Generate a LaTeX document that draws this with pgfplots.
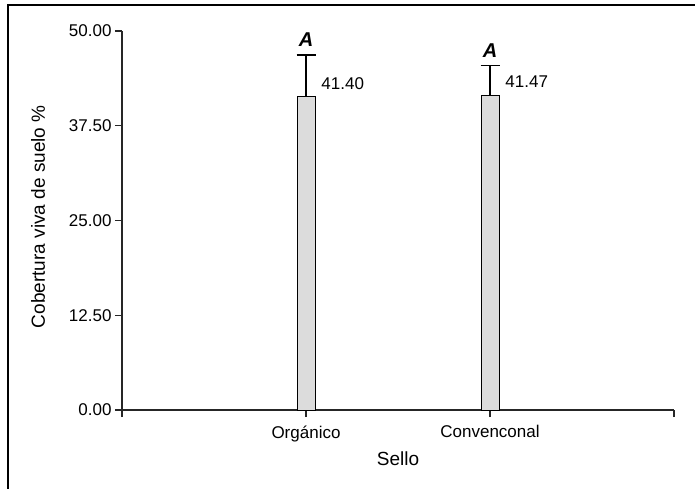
\documentclass[border=0pt]{standalone}
\usepackage{pgfplots}
\pgfplotsset{compat=1.18}
\usepackage{fontspec}
\setmainfont{Liberation Sans}
\definecolor{barfill}{HTML}{DCDCDC}
\begin{document}
\begin{tikzpicture}[x=1pt,y=1pt]
\path[use as bounding box] (0,0) rectangle (695,488);
\draw[line width=2pt] (8,-2) -- (8,483) -- (697,483);
\begin{axis}[
  at={(122pt,78pt)}, anchor=south west,
  scale only axis, width=552pt, height=379pt,
  xmin=0, xmax=3, ymin=0, ymax=50,
  axis x line=bottom, axis y line=left,
  axis line style={-, line width=1.1pt, black!85},
  every tick/.style={line width=1.1pt, black!85},
  tick align=outside, major tick length=7pt,
  xtick={0,1,2,3}, xticklabels={,Orgánico,Convenconal,},
  ytick={0,12.5,25,37.5,50},
  /pgf/number format/fixed, /pgf/number format/fixed zerofill,
  /pgf/number format/precision=2, /pgf/number format/assume math mode=true,
  ticklabel style={font=\fontsize{17}{19}\selectfont},
  xticklabel style={yshift=-5pt},
  xlabel={Sello}, ylabel={Cobertura viva de suelo \%},
  every axis x label/.style={at={(axis description cs:0.5,-0.128)}, anchor=center, font=\fontsize{19}{21}\selectfont},
  every axis y label/.style={at={(axis description cs:-0.152,0.51)}, rotate=90, anchor=center, font=\fontsize{19}{21}\selectfont},
  clip=false,
]
\addplot[ybar, bar width=18pt, fill=barfill, draw=black, line width=0.9pt,
  error bars/.cd, y dir=plus, y explicit,
  error bar style={line width=1.1pt, black},
  error mark options={rotate=90, mark size=9.5pt, line width=1.1pt, black}]
  coordinates {(1,41.40) +- (0,5.43) (2,41.47) +- (0,3.95)};
\node[anchor=west, font=\fontsize{17}{19}\selectfont] at (axis cs:1.065,43.0) {41.40};
\node[anchor=west, font=\fontsize{17}{19}\selectfont] at (axis cs:2.065,43.3) {41.47};
\node[anchor=south, font=\fontsize{20}{21}\selectfont\bfseries\itshape, inner sep=0pt] at (axis cs:1,47.9) {A};
\node[anchor=south, font=\fontsize{20}{21}\selectfont\bfseries\itshape, inner sep=0pt] at (axis cs:2,46.5) {A};
\end{axis}
\end{tikzpicture}
\end{document}
